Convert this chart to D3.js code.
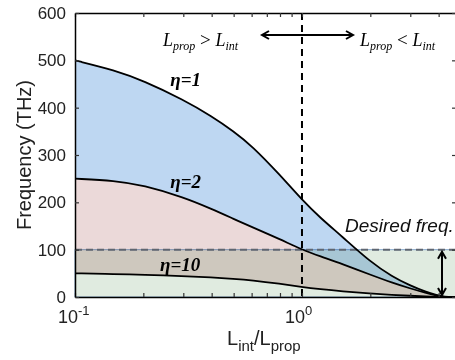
<!DOCTYPE html>
<html>
<head>
<meta charset="utf-8">
<script src="https://cdn.jsdelivr.net/npm/d3@7"></script>
<style>
  body { margin: 0; background: #fff; }
  svg { display: block; }
</style>
</head>
<body>
<div id="chart"></div>
<script>
// Data
var ratio = [0.1, 0.15, 0.2, 0.3, 0.4, 0.5, 0.6, 0.8, 1, 1.2, 1.5, 2, 2.5, 3, 3.5, 4, 4.2, 4.77];
var eta1 = [500, 479, 457, 417, 382, 350, 320, 258, 205, 168, 128, 74, 43, 24, 11, 3, 0, 0];
var eta2 = [250, 246, 236, 211, 186, 165, 148, 122, 100, 86, 70, 47, 30, 18, 9, 2, 0, 0];
var eta10 = [50, 48.5, 47, 44, 41.5, 38.5, 35.5, 28, 21, 16.5, 12, 7.5, 4.5, 2.5, 1.2, 0.3, 0, 0];
var desiredFreq = 100;
var yTicks = [0, 100, 200, 300, 400, 500, 600];
var xTicks = [0.1, 0.2, 0.3, 0.4, 0.5, 0.6, 0.7, 0.8, 0.9, 1, 2, 3, 4];
var xLabels = [{ v: 0.1, exp: "-1" }, { v: 1, exp: "0" }];
var curveLabels = [
  { name: "η=1", x: 0.263, y: 446 },
  { name: "η=2", x: 0.263, y: 231 },
  { name: "η=10", x: 0.237, y: 55 }
];

// Dimensions of the plot box (right edge sits just past the picture)
var width = 455, height = 360;
var plot = { left: 75, right: 456, top: 13, bottom: 297 };

var svg = d3.select("#chart")
  .append("svg")
  .attr("width", width)
  .attr("height", height);

var x = d3.scaleLog()
  .domain([0.1, 4.77])
  .range([plot.left, plot.right]);

var y = d3.scaleLinear()
  .domain([0, 600])
  .range([plot.bottom, plot.top]);

function series(vals) {
  return ratio.map(function(r, i) { return { x: r, v: vals[i] }; });
}

var area = d3.area()
  .x(function(d) { return x(d.x); })
  .y0(y(0))
  .y1(function(d) { return y(d.v); })
  .curve(d3.curveBasis);

var line = d3.line()
  .x(function(d) { return x(d.x); })
  .y(function(d) { return y(d.v); })
  .curve(d3.curveBasis);

// Filled regions
svg.append("path").datum(series(eta1)).attr("d", area).attr("fill", "#bed7f2");
svg.append("path").datum(series(eta2)).attr("d", area).attr("fill", "#ebd9d9");
svg.append("path").datum(series(eta10)).attr("d", area).attr("fill", "#ffffff");

// Desired frequency band
svg.append("rect")
  .attr("x", x(0.1))
  .attr("y", y(desiredFreq))
  .attr("width", plot.right - x(0.1))
  .attr("height", y(0) - y(desiredFreq))
  .attr("fill", "#e0ebe0")
  .style("mix-blend-mode", "multiply")
  .attr("stroke", "#86a9cc")
  .attr("stroke-width", 1);

svg.append("line")
  .attr("x1", x(0.1)).attr("x2", plot.right)
  .attr("y1", y(desiredFreq)).attr("y2", y(desiredFreq))
  .attr("stroke", "#5f6670")
  .attr("stroke-width", 2)
  .attr("stroke-dasharray", "7,4");

// Curves
[eta1, eta2, eta10].forEach(function(vals) {
  svg.append("path")
    .datum(series(vals))
    .attr("d", line)
    .attr("fill", "none")
    .attr("stroke", "#000")
    .attr("stroke-width", 1.8);
});

// Vertical dashed line at ratio 1
svg.append("line")
  .attr("x1", x(1)).attr("x2", x(1))
  .attr("y1", plot.top).attr("y2", plot.bottom)
  .attr("stroke", "#000")
  .attr("stroke-width", 2)
  .attr("stroke-dasharray", "7,5");

// Axes
svg.append("g")
  .attr("transform", "translate(0," + plot.bottom + ")")
  .call(d3.axisBottom(x).tickValues(xTicks).tickSizeInner(-4).tickSizeOuter(0).tickFormat(""));
svg.append("g")
  .attr("transform", "translate(0," + plot.top + ")")
  .call(d3.axisTop(x).tickValues(xTicks).tickSizeInner(-4).tickSizeOuter(0).tickFormat(""));
svg.append("g")
  .attr("transform", "translate(" + plot.right + ",0)")
  .call(d3.axisRight(y).tickValues(yTicks).tickSizeInner(-4).tickSizeOuter(0).tickFormat(""));
var yAxis = svg.append("g")
  .attr("transform", "translate(" + plot.left + ",0)")
  .call(d3.axisLeft(y).tickValues(yTicks).tickSizeInner(-4).tickSizeOuter(0).tickPadding(9));
yAxis.selectAll("text")
  .attr("font-family", "Liberation Sans, Arial, sans-serif")
  .attr("font-size", 17)
  .attr("fill", "#222");
svg.selectAll(".domain").attr("stroke", "#000").attr("stroke-width", 1.5);
svg.selectAll(".tick line").attr("stroke", "#333").attr("stroke-width", 1.2);

// x tick labels with exponents
xLabels.forEach(function(t) {
  var txt = svg.append("text")
    .attr("x", x(t.v) - 17)
    .attr("y", 323)
    .attr("font-family", "Liberation Sans, Arial, sans-serif")
    .attr("font-size", 18)
    .attr("fill", "#222");
  txt.append("tspan").text("10");
  txt.append("tspan").attr("font-size", 13).attr("dy", -8).text(t.exp);
});

// Axis titles
var xt = svg.append("text")
  .attr("x", 227)
  .attr("y", 345)
  .attr("font-family", "Liberation Sans, Arial, sans-serif")
  .attr("font-size", 20)
  .attr("fill", "#222");
xt.append("tspan").text("L");
xt.append("tspan").attr("font-size", 15).attr("dy", 6).text("int");
xt.append("tspan").attr("dy", -6).text("/L");
xt.append("tspan").attr("font-size", 15).attr("dy", 6).text("prop");

svg.append("text")
  .attr("transform", "translate(31," + ((plot.top + plot.bottom) / 2) + ") rotate(-90)")
  .attr("text-anchor", "middle")
  .attr("font-family", "Liberation Sans, Arial, sans-serif")
  .attr("font-size", 20)
  .attr("fill", "#222")
  .text("Frequency (THz)");

// Curve labels
curveLabels.forEach(function(c) {
  svg.append("text")
    .attr("x", x(c.x))
    .attr("y", y(c.y))
    .attr("font-family", "Liberation Serif, Times New Roman, serif")
    .attr("font-style", "italic")
    .attr("font-weight", "bold")
    .attr("font-size", 19)
    .text(c.name);
});

// Top annotation L_prop > L_int, L_prop < L_int
function lenText(xpos, sign) {
  var t = svg.append("text")
    .attr("x", xpos)
    .attr("y", 46)
    .attr("font-family", "Liberation Serif, Times New Roman, serif")
    .attr("font-style", "italic")
    .attr("font-size", 18);
  t.append("tspan").text("L");
  t.append("tspan").attr("font-size", 12).attr("dy", 4).text("prop");
  t.append("tspan").attr("dy", -4).attr("font-style", "normal").attr("font-size", 19).text(" " + sign + " ");
  t.append("tspan").text("L");
  t.append("tspan").attr("font-size", 12).attr("dy", 4).text("int");
}
lenText(163, ">");
lenText(360, "<");

function doubleArrow(x1, y1, x2, y2) {
  var g = svg.append("g").attr("stroke", "#000").attr("stroke-width", 2).attr("fill", "none");
  g.append("line").attr("x1", x1).attr("y1", y1).attr("x2", x2).attr("y2", y2);
  if (y1 === y2) {
    g.append("polyline").attr("points", (x1 + 7) + "," + (y1 - 4) + " " + x1 + "," + y1 + " " + (x1 + 7) + "," + (y1 + 4));
    g.append("polyline").attr("points", (x2 - 7) + "," + (y2 - 4) + " " + x2 + "," + y2 + " " + (x2 - 7) + "," + (y2 + 4));
  } else {
    g.append("polyline").attr("points", (x1 - 4) + "," + (y1 + 7) + " " + x1 + "," + y1 + " " + (x1 + 4) + "," + (y1 + 7));
    g.append("polyline").attr("points", (x2 - 4) + "," + (y2 - 7) + " " + x2 + "," + y2 + " " + (x2 + 4) + "," + (y2 - 7));
  }
}
doubleArrow(262, 35, 353, 35);
doubleArrow(442, y(desiredFreq) + 2, 442, y(0) - 2);

svg.append("text")
  .attr("x", 345)
  .attr("y", 232)
  .attr("font-family", "Liberation Sans, Arial, sans-serif")
  .attr("font-style", "italic")
  .attr("font-size", 19)
  .attr("fill", "#111")
  .text("Desired freq.");
</script>
</body>
</html>
